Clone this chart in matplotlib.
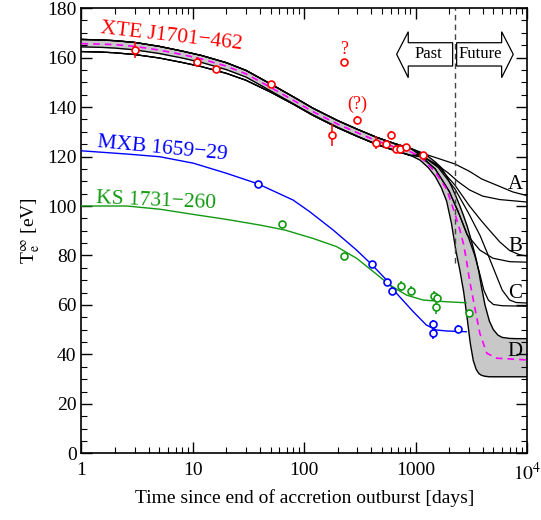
import numpy as np
import matplotlib
matplotlib.use('Agg')
import matplotlib.pyplot as plt
from matplotlib.patches import Polygon

plt.rcParams['font.family'] = ['Liberation Serif', 'DejaVu Serif']
plt.rcParams['mathtext.fontset'] = 'stix'

RED = '#ff0000'
BLUE = '#0000ff'
GREEN = '#119911'
MAG = '#ff00ff'

# ---- XTE J1701-462 observations ----
xte_t = [3, 10.9, 16.1, 49.9, 176, 440, 541, 600, 666, 723, 813, 1170]
xte_T = [163.0, 158.3, 155.2, 149.2, 128.7, 125.6, 125.1, 128.7, 123.0, 123.0, 123.7, 120.5]
xte_err = [3.2, 1.9, 1.0, 1.0, 4.6, 2.5, 1.0, 1.7, 1.5, 2.0, 1.0, 1.5]
# doubtful points
q_t = [226, 299]
q_T = [158.1, 134.7]
q_err = [1.0, 1.5]

# ---- MXB 1659-29 observations and fit ----
mxb_t = [38.4, 403, 549, 609, 1422, 1422, 2415]
mxb_T = [108.9, 76.6, 69.2, 65.7, 52.3, 48.8, 50.3]
mxb_err = [0.8, 1.0, 1.0, 1.0, 1.7, 2.7, 1.8]
mxb_fit_t = [1, 2.55, 5.06, 10.1, 20.1, 38.2, 79.5, 112, 182, 295, 403, 549, 675, 953, 1250, 1540, 1900, 2850]
mxb_fit_T = [122.3, 121.0, 119.9, 117.3, 113.2, 109.0, 102.4, 97.7, 90.3, 82.2, 76.4, 70.1, 64.7, 57.3, 51.9, 49.9, 49.5, 49.2]

# ---- KS 1731-260 observations and fit ----
ks_t = [62.6, 230, 735, 915, 1460, 1570, 1540, 3000]
ks_T = [92.7, 79.8, 67.8, 65.7, 63.6, 62.7, 59.1, 56.6]
ks_err = [1.0, 1.0, 2.0, 1.8, 2.0, 1.5, 2.7, 1.0]
ks_fit_t = [1, 2.55, 5.06, 10.1, 20, 40, 67, 120, 195, 295, 417, 585, 830, 1170, 1900, 2850]
ks_fit_T = [100.0, 100.0, 98.7, 96.6, 94.6, 92.3, 90.3, 86.9, 83.6, 78.9, 73.5, 68.1, 64.0, 62.0, 61.3, 60.9]

# ---- XTE J1701-462 model curves ----
past_t = [1, 1.5, 2, 3, 5, 8, 12, 20, 30, 50, 80, 120, 200, 300, 450, 650, 900]
hi_past = [167.3, 167.1, 166.8, 166.1, 164.5, 162.6, 160.8, 157.9, 154.8, 149.3, 144.1, 139.5, 134.5, 131.0, 127.7, 125.2, 123.3]
lo_past = [164.3, 164.1, 163.8, 163.1, 161.6, 159.8, 158.0, 155.1, 152.1, 146.5, 141.3, 136.8, 131.8, 128.2, 124.9, 122.5, 120.5]
mid_past = [165.6, 165.4, 165.2, 164.5, 163.0, 161.2, 159.4, 156.5, 153.4, 147.9, 142.7, 138.1, 133.1, 129.6, 126.3, 123.8, 121.9]
low_past = [162.4, 162.2, 161.9, 161.2, 159.8, 158.0, 156.3, 153.6, 150.8, 146.0, 141.1, 136.6, 131.6, 128.1, 124.8, 122.4, 120.4]

fut_t = [1100, 1300, 1500, 1700, 1900, 2100, 2300, 2500, 2700, 2900, 3100, 3300, 3500,
         3700, 3900, 4200, 4600, 5000, 5500, 6000, 7000, 8000, 10000]
D_hi_fut = [121.8, 120.0, 117.8, 115.5, 112.0, 108.0, 104.0, 100.0, 96.0, 92.0, 87.5, 83.0, 78.5,
            73.5, 67.5, 60.0, 53.5, 50.0, 47.8, 46.9, 46.5, 46.4, 46.4]
D_lo_fut = [118.5, 115.5, 112.0, 107.5, 102.0, 93.0, 82.0, 74.0, 65.5, 55.0, 44.5, 37.5, 34.0,
            32.3, 31.6, 31.2, 31.0, 31.0, 31.0, 31.0, 31.0, 31.0, 31.0]

mag_fut_t = [1100, 1500, 1900, 2250, 2500, 2700, 2860, 3050, 3390, 3775, 4360, 5360, 10000]
mag_fut_T = [120.0, 113.8, 106.8, 97.1, 90.3, 84.5, 78.2, 70.1, 59.3, 48.6, 40.5, 38.5, 37.8]

A1_t = [1100, 1650, 2250, 3050, 3930, 5700, 7450, 10000]
A1_T = [121.6, 119.0, 117.0, 114.0, 110.9, 107.9, 105.7, 104.2]
A2_t = [1100, 1500, 1970, 2400, 3050, 4000, 5700, 10000]
A2_T = [120.3, 117.2, 113.3, 109.9, 106.5, 104.0, 102.6, 101.6]
B1_t = [1100, 1600, 2250, 3050, 3900, 4650, 5700, 7000, 8600, 10000]
B1_T = [121.0, 116.0, 108.5, 100.0, 94.0, 90.0, 85.5, 82.0, 80.3, 79.8]
B2_t = [1100, 1500, 2000, 2400, 2890, 3775, 4950, 7020, 10000]
B2_T = [120.0, 115.0, 106.0, 98.0, 88.5, 82.2, 78.9, 77.5, 77.3]
C1_t = [1100, 1500, 2000, 2500, 3000, 3400, 3800, 4100, 4500, 5000, 6000, 10000]
C1_T = [120.5, 115.0, 106.0, 96.0, 87.0, 80.0, 72.0, 66.0, 62.0, 60.2, 59.7, 59.5]
C2_t = [1100, 1600, 2250, 3000, 3800, 4500, 5300, 6000, 7000, 8000, 10000]
C2_T = [121.0, 115.5, 107.0, 97.0, 88.0, 80.0, 72.0, 66.0, 62.0, 61.0, 60.8]

t_now = 2250

fig = plt.figure(figsize=(5.41, 5.20), dpi=100)
ax = fig.add_axes([0.1506, 0.1279, 0.8234, 0.8567])

band_t = past_t + fut_t
band_hi = np.array(hi_past + D_hi_fut)
band_lo = np.array(lo_past + D_lo_fut)
ax.fill_between(band_t, band_lo, band_hi, color='#c8c8c8', lw=0, zorder=1)
ax.plot(band_t, band_hi, color='k', lw=1.0, zorder=2)
ax.plot(band_t, band_lo, color='k', lw=1.0, zorder=2)

for tt, TT, base in [(A1_t, A1_T, hi_past), (B1_t, B1_T, hi_past), (C1_t, C1_T, hi_past),
                     (A2_t, A2_T, low_past), (B2_t, B2_T, low_past), (C2_t, C2_T, low_past)]:
    ax.plot(past_t + tt, base + TT, color='k', lw=0.9, zorder=2)

ax.plot(past_t + mag_fut_t, mid_past + mag_fut_T, color=MAG, lw=1.2, ls=(0, (4, 3)), zorder=3)

ax.plot(mxb_fit_t, mxb_fit_T, color=BLUE, lw=1.0, zorder=3)
ax.plot(ks_fit_t, ks_fit_T, color=GREEN, lw=1.0, zorder=3)

ekw = dict(fmt='o', ms=5, mfc='white', mew=1.2, capsize=0, elinewidth=1.1, zorder=4)
ax.errorbar(xte_t, xte_T, yerr=xte_err, color=RED, mec=RED, **ekw)
ax.errorbar(q_t, q_T, yerr=q_err, color=RED, mec=RED, **ekw)
ax.errorbar(mxb_t, mxb_T, yerr=mxb_err, color=BLUE, mec=BLUE, **ekw)
ax.errorbar(ks_t, ks_T, yerr=ks_err, color=GREEN, mec=GREEN, **ekw)

# "now" line
ax.plot([t_now, t_now], [76.8, 180], color='#444444', lw=1.0, ls=(0, (4, 3)), zorder=2)

# labels
ax.text(1.47, 169.8, 'XTE J1701\u2212462', color=RED, fontsize=15.5, rotation=-6.5,
        rotation_mode='anchor', ha='left', va='baseline')
ax.text(1.37, 124.0, 'MXB 1659\u221229', color=BLUE, fontsize=15.5, rotation=-5.5,
        rotation_mode='anchor', ha='left', va='baseline')
ax.text(1.35, 101.3, 'KS 1731\u2212260', color=GREEN, fontsize=15.5, rotation=-2.5,
        rotation_mode='anchor', ha='left', va='baseline')
ax.text(226, 163.3, '?', color=RED, fontsize=13, ha='center', va='center')
ax.text(300, 141.1, '(?)', color=RED, fontsize=13, ha='center', va='center')
for lab, yv in [('A', 108.5), ('B', 83.8), ('C', 64.7), ('D', 41.1)]:
    ax.text(7800, yv, lab, fontsize=15, ha='center', va='center')

# Past / Future arrows (axes fraction)
left_arrow = [(0.7075, 0.8961), (0.7336, 0.9468), (0.7336, 0.9221), (0.8332, 0.9221),
              (0.8332, 0.8698), (0.7336, 0.8698), (0.7336, 0.8436)]
right_arrow = [(0.9693, 0.8961), (0.9432, 0.9468), (0.9432, 0.9221), (0.8422, 0.9221),
               (0.8422, 0.8698), (0.9432, 0.8698), (0.9432, 0.8436)]
for verts in (left_arrow, right_arrow):
    ax.add_patch(Polygon(verts, closed=True, fc='white', ec='k', lw=0.9,
                         transform=ax.transAxes, zorder=5))
ax.text(0.7784, 0.8961, 'Past', transform=ax.transAxes, fontsize=12, ha='center', va='center', zorder=6)
ax.text(0.8945, 0.8961, 'Future', transform=ax.transAxes, fontsize=12, ha='center', va='center', zorder=6)

ax.set_xscale('log')
ax.set_xlim(1, 1e4)
ax.set_ylim(0, 180)
ax.set_xticks([1, 10, 100, 1000, 1e4])
ax.set_xticklabels(['1', '10', '100', '1000', r'$10^4$'])
ax.set_yticks(np.arange(0, 181, 20))
ax.set_yticks(np.arange(0, 181, 5), minor=True)
ax.tick_params(which='both', direction='in', top=True, right=True, labelsize=14)
ax.tick_params(which='major', length=8, width=1.0)
ax.tick_params(which='minor', length=4, width=0.8)
ax.tick_params(axis='x', pad=6)
for s in ax.spines.values():
    s.set_linewidth(1.2)

ax.set_xlabel('Time since end of accretion outburst [days]', fontsize=14)
ax.set_ylabel(r'T$_{\rm e}^{\infty}$ [eV]', fontsize=14, labelpad=4)

fig.savefig('out.png', dpi=100)
